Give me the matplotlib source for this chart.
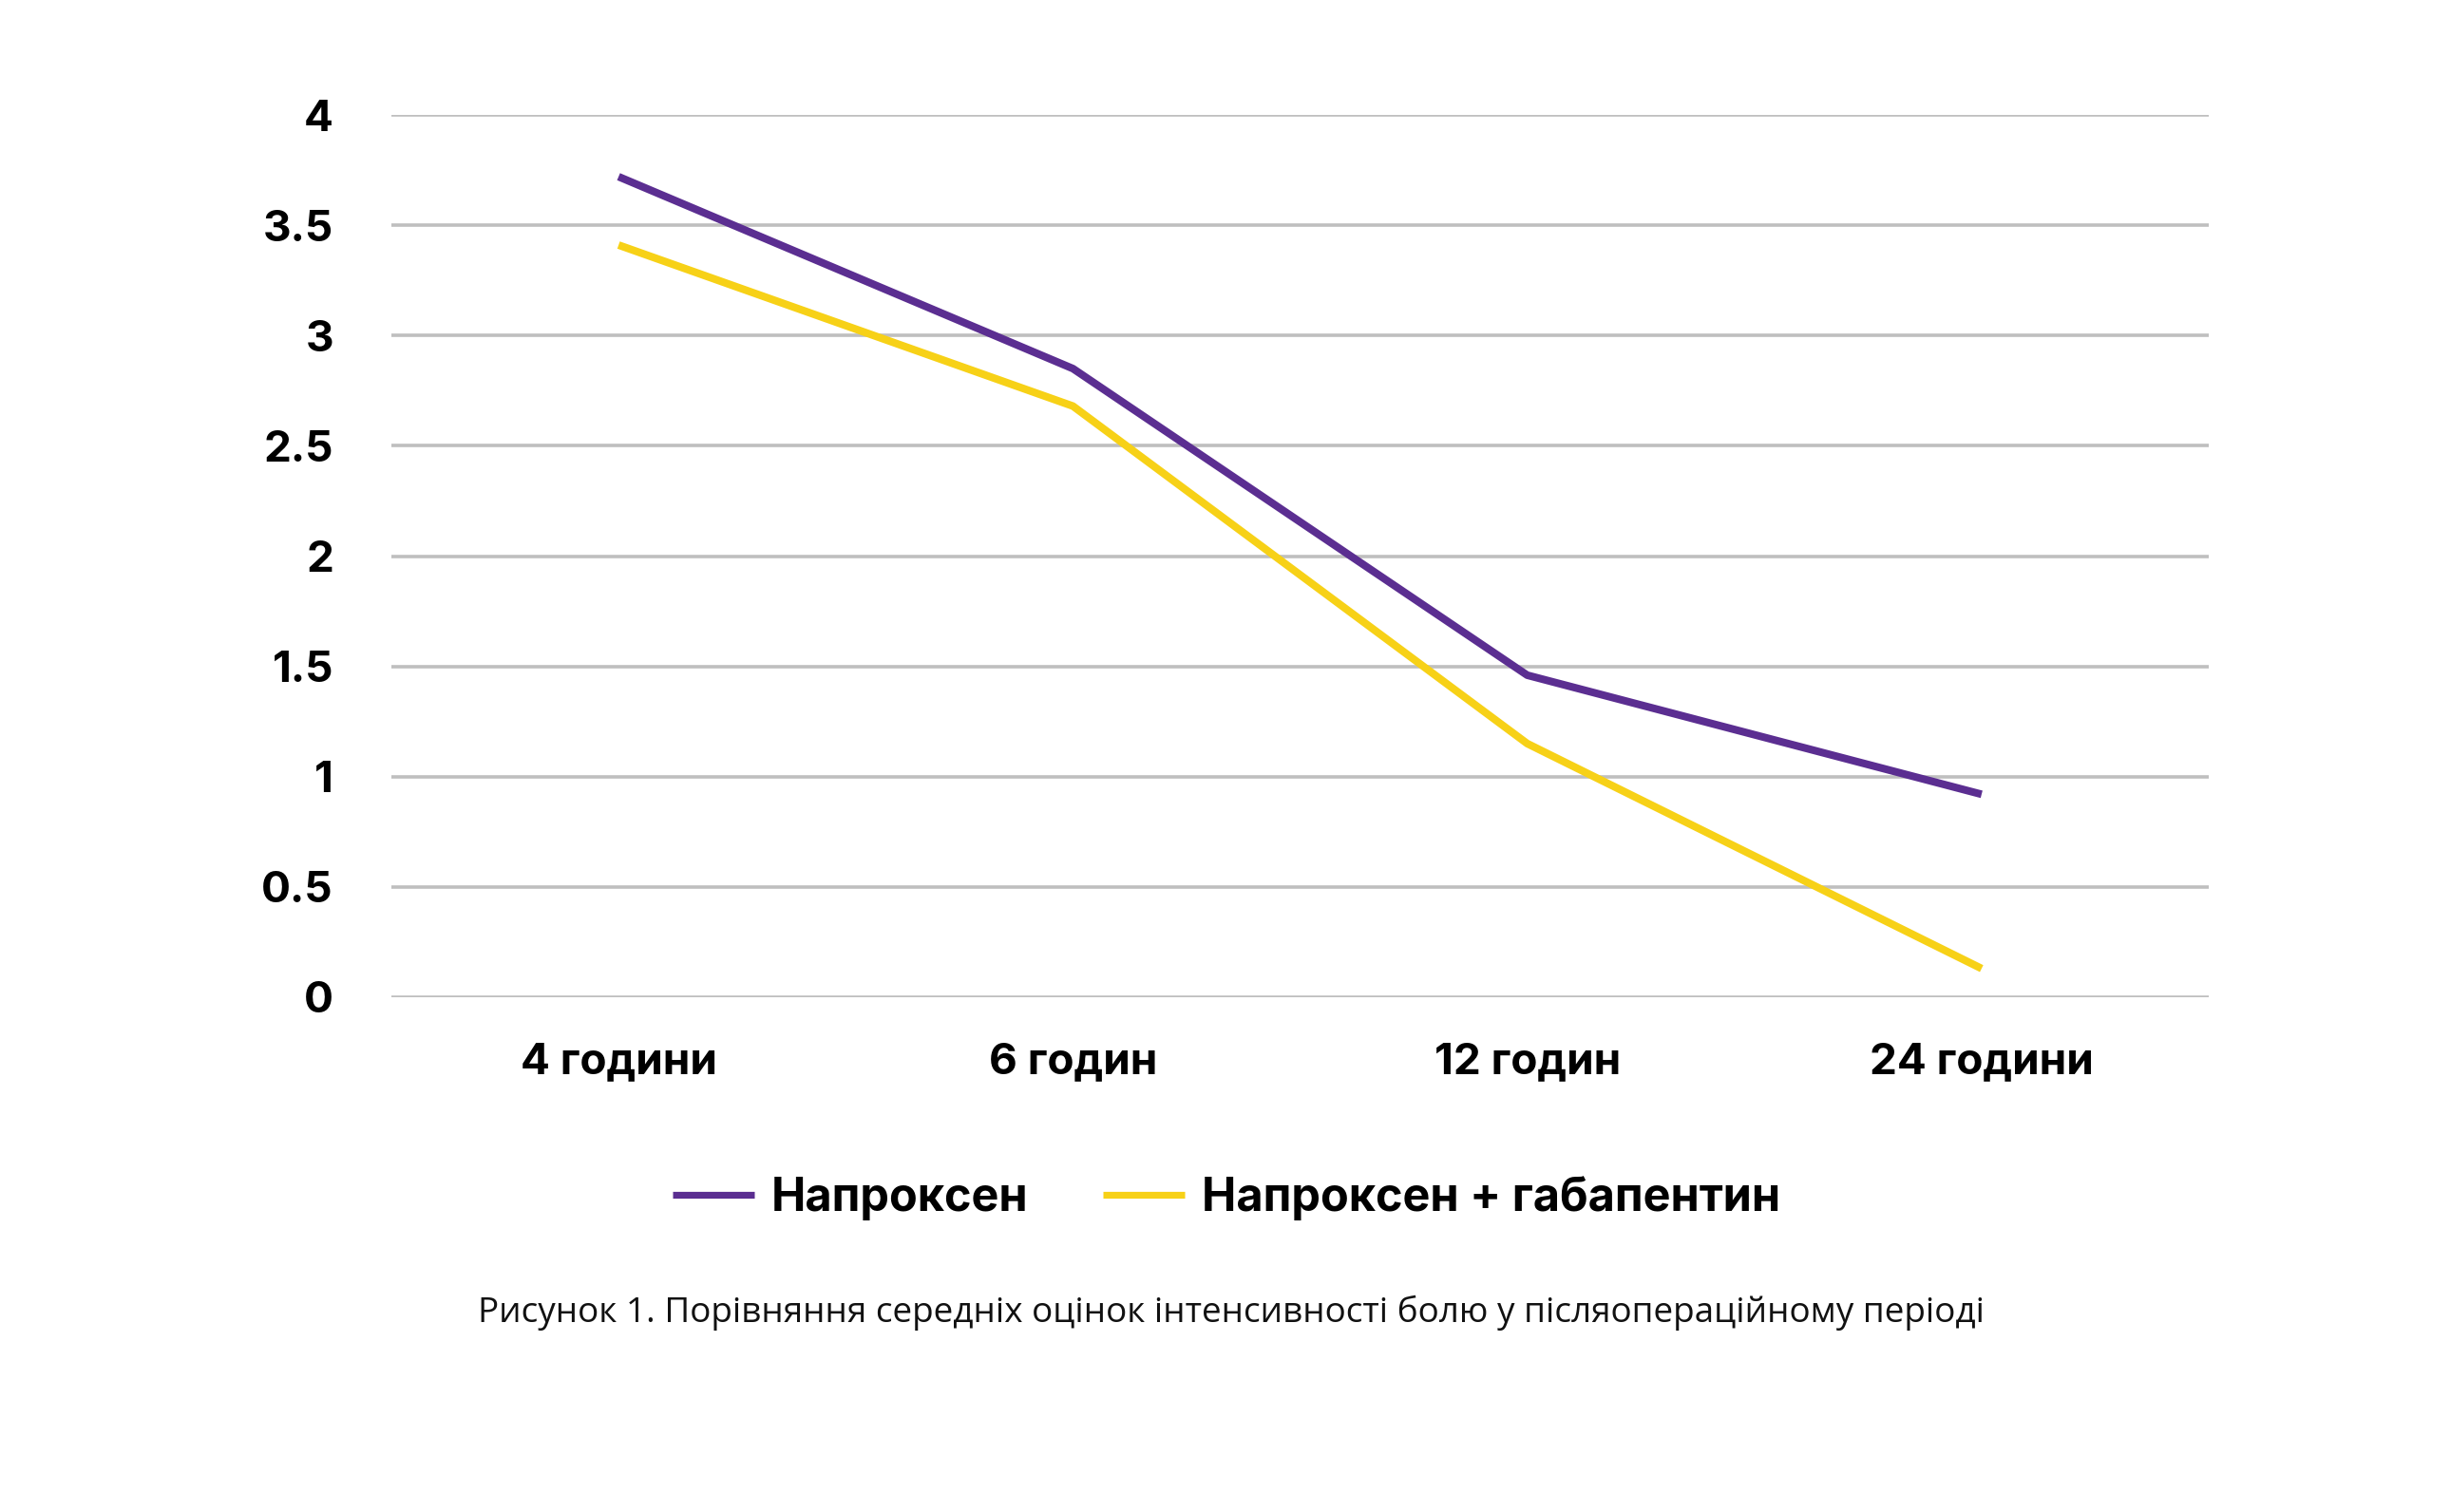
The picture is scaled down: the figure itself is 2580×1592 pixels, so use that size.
import numpy as np
import matplotlib.pyplot as plt

# Дані
categories = ["4 години", "6 годин", "12 годин", "24 години"]
naproxen = [3.72, 2.85, 1.46, 0.92]
naproxen_gaba = [3.41, 2.68, 1.15, 0.13]
yticks = [0, 0.5, 1, 1.5, 2, 2.5, 3, 3.5, 4]
ytick_labels = ["0", "0.5", "1", "1.5", "2", "2.5", "3", "3.5", "4"]

W, H = 2580, 1592
fig = plt.figure(figsize=(W / 100, H / 100), dpi=100)
ax = fig.add_axes([412 / W, 1 - 1050 / H, (2325 - 412) / W, (1050 - 121) / H])

bold = dict(family=["Inter", "DejaVu Sans"], weight="bold", size=33)

x = np.arange(len(categories))
ax.plot(x, naproxen, color="#5b2e91", lw=5.8, label="Напроксен", solid_capstyle="butt")
ax.plot(x, naproxen_gaba, color="#f7d117", lw=5.8, label="Напроксен + габапентин",
        solid_capstyle="butt")

ax.set_xlim(-0.5, len(categories) - 0.5)
ax.set_ylim(0, 4)
ax.set_yticks(yticks)
ax.set_yticklabels(ytick_labels, **bold)
ax.set_xticks(x)
ax.set_xticklabels(categories, **bold)
ax.tick_params(axis="both", length=0)
ax.tick_params(axis="y", pad=44)
ax.tick_params(axis="x", pad=34)
ax.yaxis.grid(True, color="#bfbfbf", lw=2.6)
ax.set_axisbelow(True)
for s in ax.spines.values():
    s.set_visible(False)

leg = fig.legend(loc="center", bbox_to_anchor=(1291 / W, 1 - 1262 / H), ncol=2,
                 frameon=False, handlelength=1.78, handletextpad=0.37,
                 columnspacing=1.6, prop=dict(family=["Inter", "DejaVu Sans"],
                                              weight="bold", size=35))
for line in leg.get_lines():
    line.set_linewidth(5.2)

fig.text(1296 / W, 1 - 1382 / H,
         "Рисунок 1. Порівняння середніх оцінок інтенсивності болю у післяопераційному періоді",
         ha="center", va="center", size=26.6, family=["Open Sans", "DejaVu Sans"], color="#111111")

fig.savefig("out.png", dpi=100, facecolor="white")
